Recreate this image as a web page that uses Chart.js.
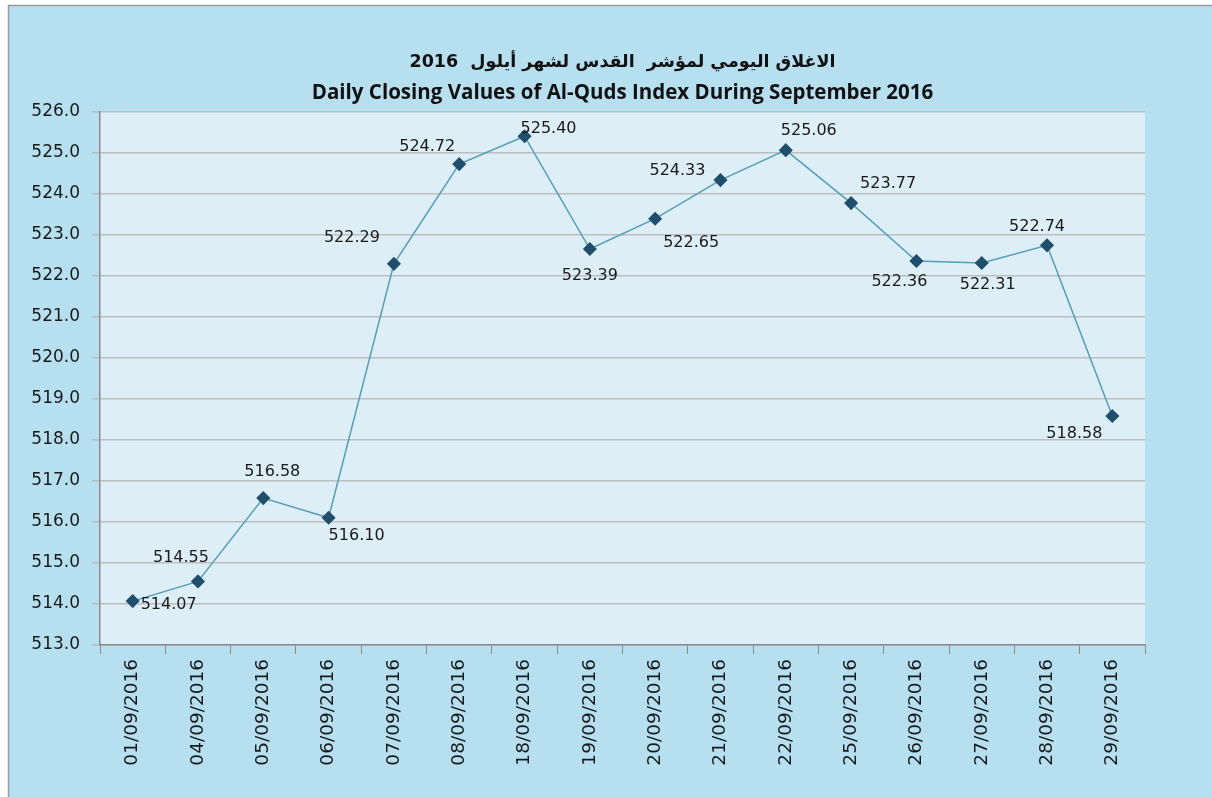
<!DOCTYPE html>
<html>
<head>
<meta charset="utf-8">
<script src="https://cdn.jsdelivr.net/npm/chart.js@4"></script>
<style>
  html, body { margin: 0; padding: 0; background: #ffffff; }
  #wrap { width: 1212px; height: 797px; position: relative; }
</style>
</head>
<body>
<div id="wrap"><canvas id="quds" width="1212" height="797"></canvas></div>
<script>
const fechas = ["01/09/2016", "04/09/2016", "05/09/2016", "06/09/2016", "07/09/2016", "08/09/2016",
  "18/09/2016", "19/09/2016", "20/09/2016", "21/09/2016", "22/09/2016", "25/09/2016",
  "26/09/2016", "27/09/2016", "28/09/2016", "29/09/2016"];
const cierres = [514.07, 514.55, 516.58, 516.10, 522.29, 524.72, 525.40, 522.65,
  523.39, 524.33, 525.06, 523.77, 522.36, 522.31, 522.74, 518.58];
// etiquetas tal como aparecen en el grafico original
const etiquetas = ["514.07", "514.55", "516.58", "516.10", "522.29", "524.72", "525.40", "523.39",
  "522.65", "524.33", "525.06", "523.77", "522.36", "522.31", "522.74", "518.58"];

const tituloAr = "الاغلاق اليومي لمؤشر  القدس لشهر أيلول  2016";
const tituloEn = "Daily Closing Values of Al-Quds Index During September 2016";

// desplazamiento de cada etiqueta respecto a su punto
const desplaz = [[36, 4], [-17, -24], [9, -26], [28, 18], [-42, -26], [-32, -17], [24, -7], [0, 27],
  [36, 24], [-43, -9], [23, -19], [37, -19], [-17, 21], [6, 22], [-10, -19], [-38, 18]];

const fondo = {
  id: "fondo",
  beforeDraw(chart) {
    const ctx = chart.ctx;
    ctx.save();
    ctx.fillStyle = "#ffffff";
    ctx.fillRect(0, 0, chart.width, chart.height);
    ctx.fillStyle = "#b6dff0";
    ctx.fillRect(8, 5, chart.width - 8, chart.height - 5);
    ctx.strokeStyle = "#9a9a9a";
    ctx.lineWidth = 1.5;
    ctx.strokeRect(8.5, 5.5, chart.width, chart.height);
    const a = chart.chartArea;
    ctx.fillStyle = "#ddeef7";
    ctx.fillRect(a.left, a.top, a.right - a.left, a.bottom - a.top);
    ctx.restore();
  }
};

const rotulos = {
  id: "rotulos",
  afterDatasetsDraw(chart) {
    const ctx = chart.ctx;
    const meta = chart.getDatasetMeta(0);
    ctx.save();
    ctx.font = "16px 'DejaVu Sans'";
    ctx.fillStyle = "#1a1a1a";
    ctx.textAlign = "center";
    ctx.textBaseline = "middle";
    meta.data.forEach((p, i) => {
      ctx.fillText(etiquetas[i], p.x + desplaz[i][0], p.y + desplaz[i][1]);
    });
    ctx.restore();
  }
};

new Chart(document.getElementById("quds"), {
  type: "line",
  data: {
    labels: fechas,
    datasets: [{
      label: "Al-Quds",
      data: cierres,
      borderColor: "#529fb8",
      borderWidth: 1.5,
      tension: 0,
      pointStyle: "rectRot",
      pointRadius: 6,
      pointBackgroundColor: "#1f4f6d",
      pointBorderColor: "#1f4f6d"
    }]
  },
  options: {
    responsive: false,
    animation: false,
    layout: { padding: { left: 0, right: 67, top: 0, bottom: 0 } },
    plugins: {
      legend: { display: false },
      tooltip: { enabled: false },
      title: {
        display: true,
        fullSize: false,
        text: tituloAr,
        color: "#111111",
        font: { family: "DejaVu Sans", size: 17.5, weight: "bold" },
        padding: { top: 52, bottom: 8 }
      },
      subtitle: {
        display: true,
        fullSize: false,
        text: tituloEn,
        color: "#111111",
        font: { family: "Open Sans", size: 20.5, weight: "bold" },
        padding: { top: 0, bottom: 6 }
      }
    },
    scales: {
      x: {
        offset: true,
        grid: { offset: true, drawOnChartArea: false, drawTicks: true, tickLength: 9, color: "#8a8a8a" },
        border: { color: "#8a8a8a", width: 1.5 },
        ticks: {
          color: "#1a1a1a",
          font: { family: "DejaVu Sans", size: 18.5 },
          minRotation: 90,
          maxRotation: 90,
          autoSkip: false,
          padding: 5
        },
        afterFit(scale) { scale.height = 152; }
      },
      y: {
        min: 513,
        max: 526,
        grid: { color: "#bdbdbd", lineWidth: 1.5, tickLength: 8 },
        border: { color: "#8a8a8a", width: 1.5 },
        ticks: {
          stepSize: 1,
          color: "#1a1a1a",
          font: { family: "DejaVu Sans", size: 17 },
          padding: 12,
          callback: v => v.toFixed(1)
        },
        afterFit(scale) { scale.width = 100; }
      }
    }
  },
  plugins: [fondo, rotulos]
});
</script>
</body>
</html>
